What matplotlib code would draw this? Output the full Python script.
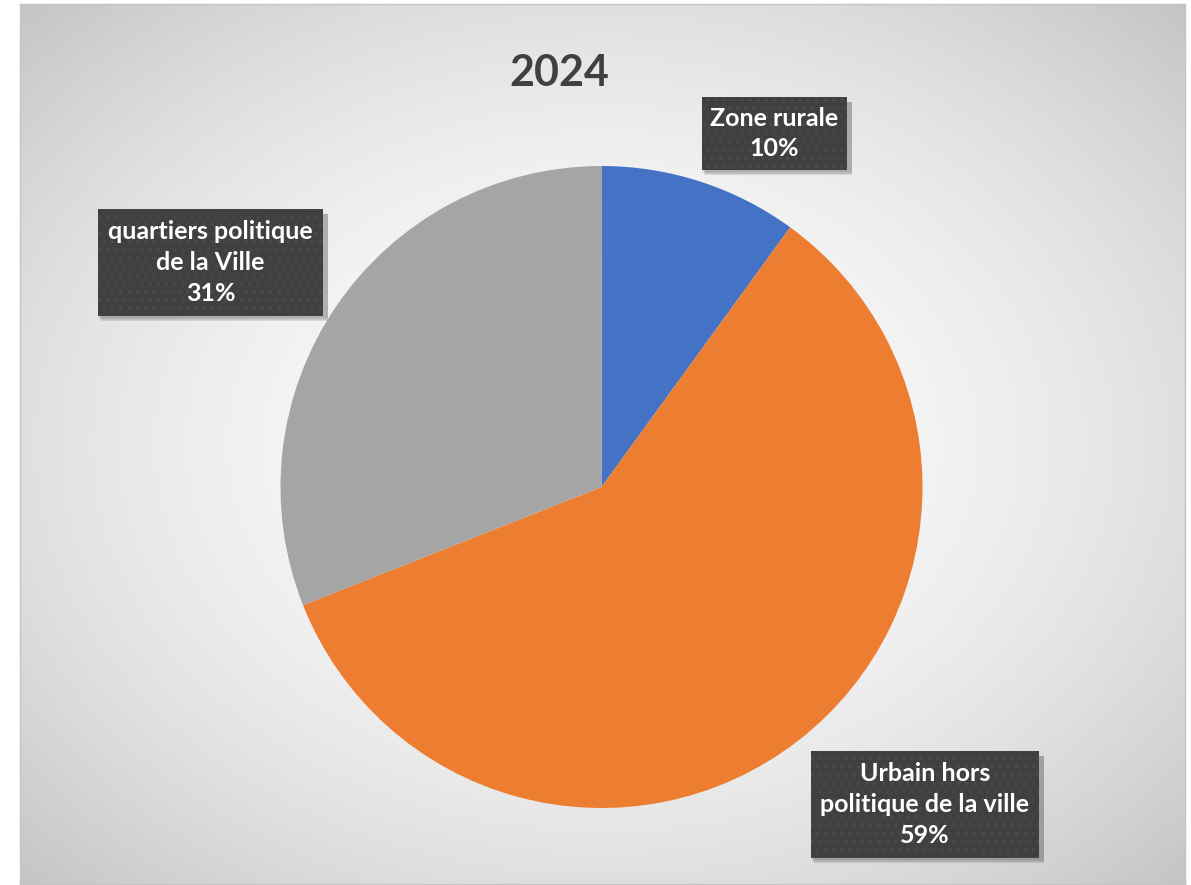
import numpy as np
import matplotlib.pyplot as plt
from matplotlib.patches import Rectangle

# données
labels = ['Zone rurale', 'Urbain hors\npolitique de la ville', 'quartiers politique\nde la Ville']
values = [10, 59, 31]
colors = ['#4472C4', '#ED7D31', '#A5A5A5']
title = '2024'

W, H = 1191, 885
fig = plt.figure(figsize=(W / 100, H / 100), dpi=100)
fig.patch.set_facecolor('white')

# fond avec dégradé radial
bg = fig.add_axes([20 / W, 1 / H, 1165 / W, 880 / H])
yy, xx = np.mgrid[0:880, 0:1165]
r = np.hypot((xx - 582) / 582, (yy - 440) / 440) / np.sqrt(2)
grad = 0.99 - 0.22 * r ** 1.9
bg.imshow(np.dstack([grad] * 3), aspect='auto', interpolation='bilinear')
bg.set_xticks([])
bg.set_yticks([])
for sp in bg.spines.values():
    sp.set_color('#c4c4c4')
    sp.set_linewidth(1)

ax = fig.add_axes([0, 0, 1, 1])
ax.pie(values, colors=colors, startangle=90, counterclock=False,
       center=(601.5, H - 487), radius=321, frame=True,
       wedgeprops=dict(linewidth=0))
ax.set_xlim(0, W)
ax.set_ylim(0, H)
ax.set_aspect('equal')
ax.axis('off')

ax.text(559.5, H - 73, title, ha='center', va='center', fontsize=31,
        fontweight='bold', color='#404040', family='Lato')

# étiquettes
boxes = [(702, 97, 145, 73), (811, 751, 228, 107), (98, 209, 225, 107)]
for lab, v, (bx, by, bw, bh) in zip(labels, values, boxes):
    # ombre floue
    for k, a in [(6, 0.05), (5, 0.06), (4, 0.08), (3, 0.1)]:
        ax.add_patch(Rectangle((bx + 6 - k, H - by - bh - 5 + k - 3), bw + k - 1, bh - k + 3,
                               facecolor='black', alpha=a, linewidth=0, zorder=4))
    ax.add_patch(Rectangle((bx, H - by - bh), bw, bh, facecolor='#404040',
                           edgecolor='#4a4a4a', hatch='..', linewidth=0, zorder=5))
    ax.text(bx + bw / 2, H - by - bh / 2, f'{lab}\n{v}%', ha='center', va='center',
            multialignment='center', fontsize=18, fontweight='bold',
            color='white', family='Lato', linespacing=1.42, zorder=6)

fig.savefig('out.png', dpi=100)
